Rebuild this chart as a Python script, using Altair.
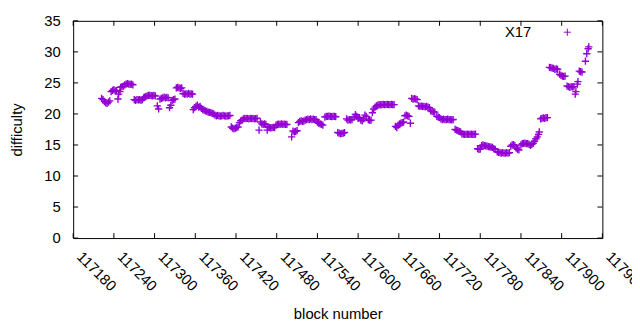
import altair as alt
import pandas as pd

blocks = [
    117222, 117224, 117226, 117228, 117230, 117232, 117234,
    117236, 117238, 117240, 117242, 117244, 117246, 117247,
    117249, 117250, 117252, 117254,
    117256, 117258, 117260, 117262, 117264, 117266, 117268,
    117270, 117272, 117274, 117276, 117278, 117280, 117282, 117284, 117285,
    117287, 117289, 117291, 117293, 117295, 117297, 117299, 117301,
    117304, 117306,
    117308, 117310, 117312, 117314, 117316, 117318, 117320,
    117322, 117324, 117326, 117328, 117330,
    117332, 117334, 117336, 117338, 117340,
    117342, 117344, 117346, 117348, 117350, 117352, 117354, 117356, 117357,
    117359, 117361, 117363, 117365, 117367,
    117369, 117371, 117373, 117375, 117377, 117379, 117381, 117383, 117385, 117387,
    117389, 117391, 117393, 117395, 117397, 117399, 117401, 117403, 117405, 117407,
    117409, 117411,
    117413, 117415, 117417, 117419, 117421, 117423, 117425, 117427, 117429,
    117431, 117433, 117435, 117437, 117439, 117441, 117443, 117445, 117447, 117449,
    117451, 117454,
    117456, 117458, 117460, 117462, 117464, 117466,
    117467, 117469, 117471, 117473, 117475, 117477,
    117479, 117481, 117483, 117485, 117487, 117489, 117491, 117493, 117495,
    117502, 117504, 117506, 117508, 117510,
    117512, 117514, 117516, 117518, 117520,
    117522, 117524, 117526, 117528, 117530, 117532, 117534, 117536, 117538,
    117540, 117542, 117544, 117546, 117548,
    117551, 117553, 117555, 117557, 117559, 117561, 117563, 117565, 117567,
    117570, 117572, 117574, 117576, 117578, 117580,
    117583, 117585, 117587, 117589, 117591,
    117594, 117596, 117598, 117600, 117602, 117604, 117606, 117608, 117610, 117612,
    117615, 117617, 117619,
    117621, 117623, 117625, 117627, 117629,
    117631, 117633, 117635, 117637, 117639, 117641, 117643, 117645, 117647, 117649,
    117651, 117653,
    117655, 117657, 117659, 117661, 117663, 117665, 117667,
    117669, 117671, 117673, 117675, 117677,
    117679, 117681, 117683, 117685, 117687,
    117689, 117691, 117693, 117695, 117697, 117699, 117701, 117703, 117705,
    117707, 117709, 117711, 117713,
    117716, 117718, 117720, 117722,
    117724, 117726, 117728, 117730, 117732, 117734, 117736, 117738, 117740,
    117743, 117745, 117747, 117749, 117751,
    117753, 117755, 117757, 117759, 117761, 117763, 117765, 117767, 117769, 117771,
    117773,
    117776, 117778, 117780,
    117782, 117784, 117786, 117788, 117790, 117792, 117794, 117796, 117798, 117800,
    117802,
    117805, 117807, 117809, 117811, 117813, 117815, 117817, 117819, 117821, 117823,
    117825, 117827, 117829, 117831,
    117833, 117835, 117837,
    117840, 117842, 117844, 117846, 117848, 117850, 117852, 117854, 117856, 117858,
    117860, 117862, 117864, 117866, 117867,
    117869, 117871, 117873, 117875, 117877, 117879,
    117882, 117884, 117886, 117888, 117890, 117892, 117894,
    117897, 117899, 117901, 117903, 117905,
    117908, 117910, 117912, 117914, 117916, 117918,
    117920, 117921, 117923, 117924,
    117926, 117928, 117930,
    117935, 117937, 117939, 117940,
]
difficulty = [
    22.5, 22.3, 22.0, 21.8, 21.7, 21.9, 22.1,
    23.6, 23.8, 23.9, 23.7, 23.8, 22.4, 23.2,
    23.6, 24.3, 24.4, 24.5,
    24.7, 24.8, 24.9, 24.8, 24.75, 24.8, 24.7,
    22.3, 22.2, 22.3, 22.25, 22.3, 22.2, 22.3, 22.6, 22.7,
    22.8, 22.9, 23.0, 23.0, 22.95, 22.9, 23.0, 22.9,
    21.3, 20.8,
    22.4, 22.5, 22.6, 22.7, 22.6, 22.65, 22.6,
    21.0, 21.4, 22.2, 22.3, 22.4,
    24.2, 24.3, 24.2, 24.1, 24.2,
    23.3, 23.2, 23.25, 23.2, 23.3, 23.2, 23.25, 23.2, 20.7,
    21.0, 21.2, 21.4, 21.1, 21.2,
    20.9, 20.7, 20.6, 20.5, 20.4, 20.3, 20.25, 20.2, 20.1, 20.0,
    19.8, 19.7, 19.75, 19.7, 19.65, 19.7, 19.75, 19.7, 19.65, 19.7,
    19.7, 19.75,
    17.9, 17.7, 17.6, 17.7, 17.8, 17.9, 18.6, 18.9, 19.0,
    19.2, 19.3, 19.25, 19.3, 19.2, 19.3, 19.25, 19.3, 19.2, 19.25,
    19.3, 17.4,
    18.7, 18.4, 18.3, 18.4, 18.3, 17.4,
    17.9, 17.8, 17.75, 17.8, 17.85, 17.8,
    18.2, 18.3, 18.35, 18.3, 18.4, 18.3, 18.35, 18.3, 18.3,
    16.3, 17.25, 17.1, 17.2, 17.3,
    18.6, 18.8, 18.9, 18.8, 18.85,
    19.0, 19.1, 19.15, 19.1, 19.2, 19.1, 19.15, 19.1, 19.1,
    18.7, 18.5, 18.4, 18.3, 18.2,
    19.5, 19.6, 19.6, 19.65, 19.6, 19.55, 19.6, 19.6, 19.55,
    17.0, 16.9, 16.8, 16.85, 16.9, 17.0,
    19.2, 19.0, 19.1, 19.05, 19.1,
    19.5, 19.9, 19.6, 19.3, 19.4, 19.0, 18.9, 19.2, 19.8, 19.6,
    19.1, 18.95, 19.0,
    20.2, 20.8, 21.1, 21.3, 21.4,
    21.5, 21.45, 21.5, 21.55, 21.5, 21.5, 21.55, 21.5, 21.5, 21.55,
    21.5, 21.5,
    18.0, 17.8, 18.2, 18.4, 18.5, 18.6, 18.7,
    19.7, 19.8, 19.7, 19.6, 18.5,
    22.5, 22.4, 22.45, 22.4, 22.3,
    21.3, 21.2, 21.25, 21.2, 21.2, 21.15, 21.2, 21.1, 21.0,
    20.5, 20.4, 20.35, 20.3,
    19.6, 19.5, 19.4, 19.2,
    19.1, 19.15, 19.1, 19.1, 19.15, 19.1, 19.1, 19.05, 19.1,
    17.5, 17.4, 17.3, 17.2, 17.1,
    16.8, 16.75, 16.7, 16.7, 16.75, 16.7, 16.7, 16.75, 16.7, 16.7,
    16.75,
    14.4, 14.3, 14.35,
    14.9, 15.0, 14.9, 14.85, 14.8, 14.75, 14.7, 14.65, 14.6, 14.4,
    14.3,
    13.9, 13.8, 13.75, 13.7, 13.75, 13.7, 13.7, 13.75, 13.7, 13.75,
    14.8, 15.0, 15.05, 14.9,
    14.5, 14.3, 14.2,
    15.0, 15.2, 15.25, 15.3, 15.2, 15.2, 15.1, 14.95, 15.1, 15.25,
    15.6, 16.0, 16.3, 16.7, 17.1,
    19.2, 19.3, 19.35, 19.3, 19.4, 19.4,
    27.5, 27.45, 27.4, 27.35, 27.2, 27.25, 27.2,
    26.4, 26.2, 26.1, 26.05, 26.1,
    24.5, 24.4, 24.3, 24.4, 24.35, 24.4,
    23.2, 23.6, 24.8, 25.2,
    26.9, 26.8, 26.75,
    28.5, 29.7, 30.5, 30.8,
]
series = "X17"
x_ticks = [117180, 117240, 117300, 117360, 117420, 117480, 117540,
           117600, 117660, 117720, 117780, 117840, 117900, 117960]
y_ticks = [0, 5, 10, 15, 20, 25, 30, 35]

df = pd.DataFrame({"block": blocks, "difficulty": difficulty, "series": series})
xt = pd.DataFrame({"t": x_ticks})
yt = pd.DataFrame({"t": y_ticks})

W, H = 536, 220
PLUS = "M-1,0L1,0M0,-1L0,1"
FONT = "Liberation Sans"
COLOR = "#9400d3"

xscale = alt.Scale(domain=[x_ticks[0], x_ticks[-1]], nice=False, zero=False)
yscale = alt.Scale(domain=[y_ticks[0], y_ticks[-1]], nice=False, zero=False)

xaxis = alt.Axis(values=x_ticks, format="d", labelAngle=45,
                 labelAlign="left", labelBaseline="middle",
                 labelPadding=16, labelOffset=6, ticks=False,
                 tickSize=0, domain=False, grid=False,
                 labelFontSize=15, titleFontSize=15,
                 titleFontWeight="normal", titleX=268, titleY=76,
                 titleBaseline="middle", titleAlign="center",
                 labelFont=FONT, titleFont=FONT, labelColor="black",
                 titleColor="black", labelOverlap=False,
                 labelFlush=False, labelBound=False)
yaxis = alt.Axis(values=y_ticks, ticks=False, tickSize=0,
                 domain=False, grid=False, labelPadding=13,
                 labelFontSize=15, titleFontSize=15,
                 titleFontWeight="normal", titleAngle=270,
                 titleX=-57, titleY=110, titleBaseline="middle",
                 titleAlign="center", labelFont=FONT, titleFont=FONT,
                 labelColor="black", titleColor="black",
                 labelOverlap=False, labelFlush=False)

points = alt.Chart(df).mark_point(
    shape=PLUS, filled=False, size=54, strokeWidth=1.4, opacity=1
).encode(
    x=alt.X("block:Q", scale=xscale, title="block number", axis=xaxis),
    y=alt.Y("difficulty:Q", scale=yscale, title="difficulty", axis=yaxis),
    color=alt.Color("series:N", scale=alt.Scale(range=[COLOR]),
                    legend=alt.Legend(title=None, orient="none", legendX=493,
                                      legendY=4, labelAlign="right",
                                      labelOffset={"expr": "-44"},
                                      symbolType=PLUS,
                                      symbolSize=52, symbolStrokeWidth=1,
                                      labelFontSize=15, labelFont=FONT,
                                      labelColor="black", padding=0)),
)

tick_len = 5
xb = alt.Chart(xt).mark_rule(color="black", strokeWidth=1).encode(
    x=alt.X("t:Q", scale=xscale, title="block number", axis=xaxis),
    y=alt.value(H), y2=alt.value(H - tick_len))
xtop = alt.Chart(xt).mark_rule(color="black", strokeWidth=1).encode(
    x=alt.X("t:Q", scale=xscale, title="block number", axis=xaxis),
    y=alt.value(0), y2=alt.value(tick_len))
yl = alt.Chart(yt).mark_rule(color="black", strokeWidth=1).encode(
    y=alt.Y("t:Q", scale=yscale, title="difficulty", axis=yaxis),
    x=alt.value(0), x2=alt.value(tick_len))
yr = alt.Chart(yt).mark_rule(color="black", strokeWidth=1).encode(
    y=alt.Y("t:Q", scale=yscale, title="difficulty", axis=yaxis),
    x=alt.value(W), x2=alt.value(W - tick_len))

chart = alt.layer(points, xb, xtop, yl, yr).properties(
    width=W, height=H,
    autosize=alt.AutoSizeParams(type="none"),
    padding={"left": 66, "top": 11, "right": 30, "bottom": 83},
    background="white",
).configure_view(stroke="black", strokeWidth=1)

chart.save("out.html", embed_options={"renderer": "svg", "actions": False})
